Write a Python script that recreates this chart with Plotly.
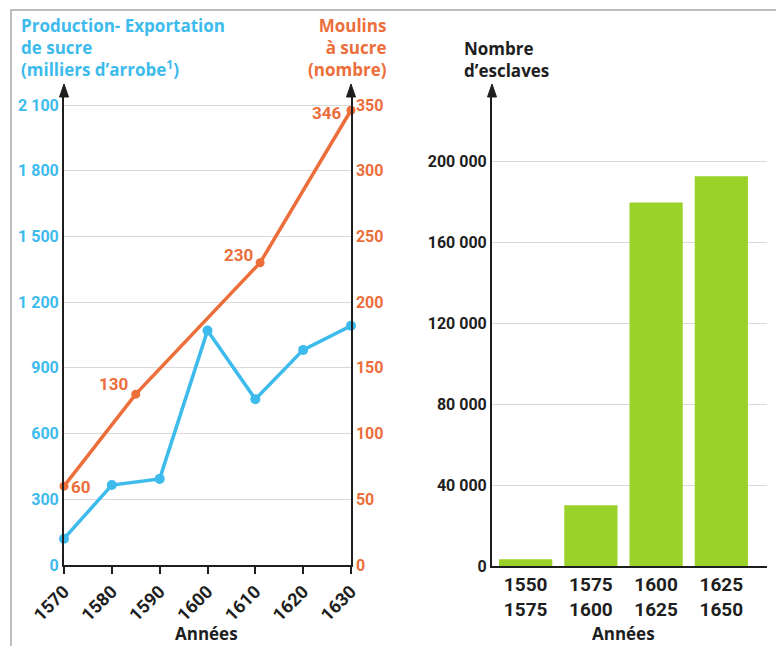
import plotly.graph_objects as go

# ---------------- data ----------------
years_sugar = [1570, 1580, 1590, 1600, 1610, 1620, 1630]
sugar_production = [120, 365, 393, 1070, 757, 982, 1092]   # milliers d'arrobe

years_mills = [1570, 1585, 1611, 1630]
mills = [60, 130, 230, 346]                                  # moulins à sucre

slave_periods = ["1550<br>1575", "1575<br>1600", "1600<br>1625", "1625<br>1650"]
slaves = [3300, 30000, 179500, 192500]

left_ticks = [0, 300, 600, 900, 1200, 1500, 1800, 2100]
right_ticks = [0, 50, 100, 150, 200, 250, 300, 350]
bar_ticks = [0, 40000, 80000, 120000, 160000, 200000]
year_ticks = [1570, 1580, 1590, 1600, 1610, 1620, 1630]

BLUE = "#3dbbec"
ORANGE = "#ec6e3b"
GREEN = "#9bd22a"
GRID = "#d9d9d9"
AXIS = "#1e1e1e"
FONT = "Roboto"
TFONT = "Open Sans"

# page body adds an 8px margin: the figure is placed at (8, 8)
OFF = 8
W, H = 784 - OFF, 646 - OFF


def px(x):
    return (x - OFF) / W


def py(y):
    return (H - (y - OFF)) / H


def fmt(v):
    return f"{v:,}".replace(",", " ")


fig = go.Figure()

fig.add_trace(go.Scatter(
    x=years_sugar, y=sugar_production, mode="lines+markers",
    line=dict(color=BLUE, width=3.5), marker=dict(color=BLUE, size=10),
    cliponaxis=False, xaxis="x", yaxis="y", showlegend=False,
))

fig.add_trace(go.Scatter(
    x=years_mills, y=mills, mode="lines+markers",
    line=dict(color=ORANGE, width=3.5), marker=dict(color=ORANGE, size=9),
    cliponaxis=False, xaxis="x", yaxis="y2", showlegend=False,
))

fig.add_trace(go.Bar(
    x=slave_periods, y=slaves, marker=dict(color=GREEN, line=dict(width=0)),
    xaxis="x3", yaxis="y3", showlegend=False,
))

# value labels for the mills series (pixel offsets from each point)
label_shifts = [(17, -1), (-22, 10), (-22, 8), (-24, -3)]
for yr, v, (dx, dy) in zip(years_mills, mills, label_shifts):
    fig.add_annotation(x=yr, y=v, xref="x", yref="y2", text=str(v),
                       showarrow=False, xshift=dx, yshift=dy,
                       xanchor="center", yanchor="middle",
                       font=dict(size=17, color=ORANGE, family=FONT, weight="bold"))

y_bottom = 565
y_top = 92
left_top = 2100 * (y_bottom - y_top) / (y_bottom - 105)
right_top = 350 * (y_bottom - y_top) / (y_bottom - 105)

bar_bottom = 566
bar_top = 200000 * (bar_bottom - y_top) / (bar_bottom - 161)

fig.update_layout(
    width=W, height=H,
    margin=dict(l=0, r=0, t=0, b=0, autoexpand=False),
    paper_bgcolor="white", plot_bgcolor="white",
    font=dict(family=FONT, color=AXIS),
    bargap=0.184,
    xaxis=dict(
        domain=[px(64), px(351)], range=[1570, 1630], automargin=False,
        tickvals=year_ticks, ticktext=[str(v) for v in year_ticks],
        tickangle=-45, ticks="outside", ticklen=7, tickwidth=1.5, tickcolor=AXIS,
        tickfont=dict(size=18, color=AXIS, weight="bold"),
        showline=True, linecolor=AXIS, linewidth=2, showgrid=False, zeroline=False,
        anchor="y",
    ),
    yaxis=dict(
        domain=[py(y_bottom), py(y_top)], range=[0, left_top], automargin=False,
        tickvals=left_ticks, ticktext=[fmt(v) for v in left_ticks],
        tickfont=dict(size=16, color=BLUE, weight="bold"),
        showline=True, linecolor=AXIS, linewidth=2,
        showgrid=True, gridcolor=GRID, gridwidth=1, zeroline=False,
        anchor="x",
    ),
    yaxis2=dict(
        overlaying="y", side="right", anchor="x", range=[0, right_top],
        automargin=False,
        tickvals=right_ticks, ticktext=[str(v) for v in right_ticks],
        tickfont=dict(size=16, color=ORANGE, weight="bold"),
        showline=True, linecolor=AXIS, linewidth=1.5,
        showgrid=False, zeroline=False,
    ),
    xaxis3=dict(
        domain=[px(492), px(767)], range=[-0.516, 3.70], automargin=False,
        type="category", anchor="y3",
        tickfont=dict(size=19, color=AXIS, weight="bold"),
        showline=True, linecolor=AXIS, linewidth=2, ticks="",
        showgrid=False, zeroline=False,
    ),
    yaxis3=dict(
        domain=[py(bar_bottom), py(y_top)], range=[0, bar_top], anchor="x3",
        automargin=False,
        tickvals=bar_ticks, ticktext=[fmt(v) for v in bar_ticks],
        tickfont=dict(size=16, color=AXIS, weight="bold"),
        showline=True, linecolor=AXIS, linewidth=2,
        showgrid=True, gridcolor=GRID, gridwidth=1, zeroline=False,
    ),
)

# border frame
fig.add_shape(type="rect", xref="paper", yref="paper",
              x0=px(11), x1=px(781), y0=-0.05, y1=py(10),
              line=dict(color="#bdbdbd", width=2), fillcolor="rgba(0,0,0,0)",
              layer="below")

# axis arrowheads
for xa in (64, 351, 492):
    fig.add_shape(type="path", xref="paper", yref="paper",
                  path=f"M {px(xa - 4.5)} {py(97)} L {px(xa)} {py(84)} L {px(xa + 4.5)} {py(97)} Z",
                  fillcolor=AXIS, line=dict(color=AXIS, width=1))

# titles
fig.add_annotation(xref="paper", yref="paper", x=px(19), y=py(12),
                   xanchor="left", yanchor="top", align="left", showarrow=False,
                   text="Production- Exportation<br>de sucre<br>(milliers d’arrobe<sup>1</sup>)",
                   font=dict(size=17, color=BLUE, weight="bold", family=TFONT))
fig.add_annotation(xref="paper", yref="paper", x=px(389), y=py(12),
                   xanchor="right", yanchor="top", align="right", showarrow=False,
                   text="Moulins<br>à sucre<br>(nombre)",
                   font=dict(size=17, color=ORANGE, weight="bold", family=TFONT))
fig.add_annotation(xref="paper", yref="paper", x=px(462), y=py(35),
                   xanchor="left", yanchor="top", align="left", showarrow=False,
                   text="Nombre<br>d’esclaves",
                   font=dict(size=17, color=AXIS, weight="bold", family=TFONT))
for cx in (207, 623):
    fig.add_annotation(xref="paper", yref="paper", x=px(cx), y=py(646),
                       xanchor="center", yanchor="bottom", showarrow=False,
                       borderpad=0,
                       text="Années",
                       font=dict(size=17, color=AXIS, weight="bold", family=TFONT))

fig.write_html("out.html")
